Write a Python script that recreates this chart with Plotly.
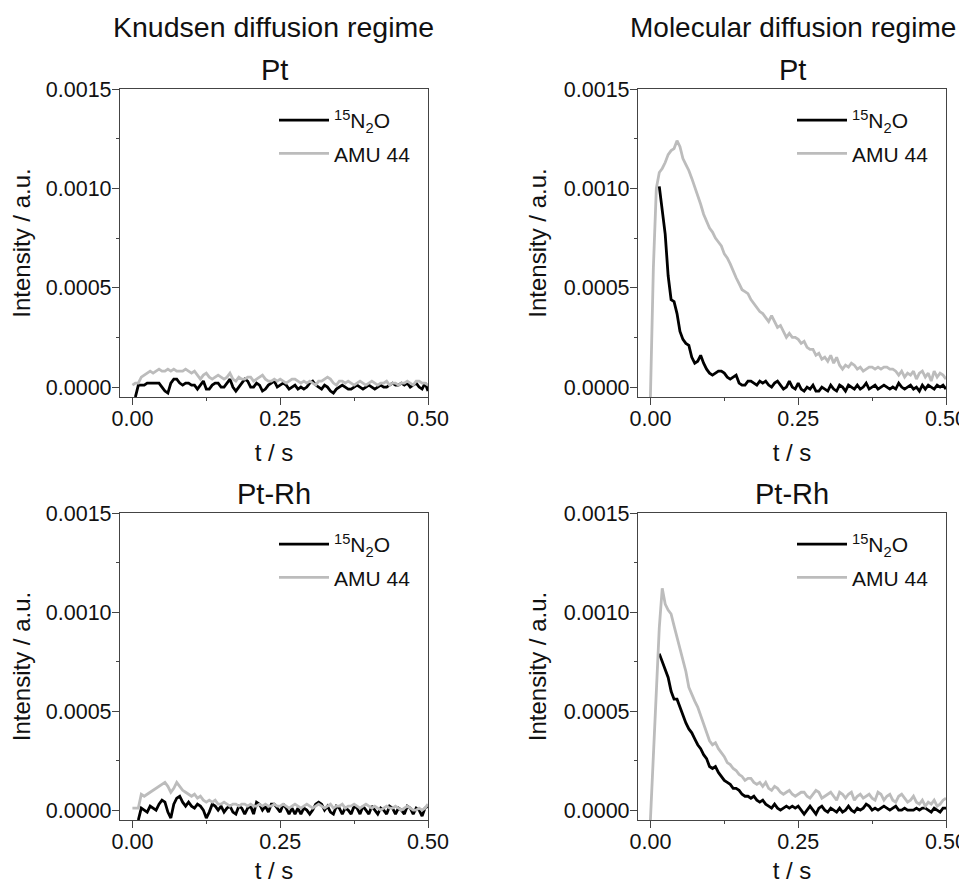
import numpy as np
import plotly.graph_objects as go

# time grid (s)
t = np.round(np.arange(0, 0.5001, 0.005), 3)

SCALE = 1e-4  # values below are in units of 1e-4 a.u.

# Knudsen regime, Pt
knudsen_pt_n2o = [None, -0.5, 0.1, 0.1, 0.1, 0.2, 0.2, 0.2, 0.2, 0.2,
                  0.0, -0.2, -0.3, 0.2, 0.4, 0.4, 0.2, 0.1, 0.2, 0.2,
                  0.1, 0.1, -0.1, 0.1, 0.3, -0.1, -0.1, 0.1, 0.2, 0.2,
                  0.0, 0.0, 0.2, 0.4, 0.0, -0.2, 0.0, 0.2, 0.4, 0.3,
                  0.0, 0.0, 0.2, 0.1, -0.2, -0.1, 0.1, 0.2, 0.3, 0.0,
                  0.1, 0.2, 0.1, -0.1, 0.0, 0.1, -0.1, 0.0, -0.1, 0.0,
                  0.2, 0.3, 0.1, 0.0, -0.1, 0.1, 0.0, -0.2, -0.3, -0.1,
                  0.0, 0.1, 0.0, -0.1, -0.1, 0.0, 0.1, 0.0, -0.1, 0.0,
                  0.1, 0.0, -0.1, 0.0, 0.1, 0.0, 0.0, 0.1, 0.2, 0.1,
                  0.1, 0.2, 0.1, 0.2, 0.0, 0.1, 0.2, 0.0, -0.1, 0.2, -0.2]
knudsen_pt_amu44 = [0.1, 0.2, 0.2, 0.5, 0.6, 0.7, 0.8, 0.7, 0.8, 0.9,
                    0.8, 0.8, 0.9, 0.8, 0.9, 0.8, 0.8, 0.8, 0.9, 0.8,
                    0.7, 0.8, 0.6, 0.4, 0.6, 0.7, 0.5, 0.4, 0.5, 0.6,
                    0.5, 0.4, 0.5, 0.7, 0.4, 0.3, 0.5, 0.4, 0.4, 0.5,
                    0.5, 0.3, 0.4, 0.5, 0.6, 0.4, 0.3, 0.3, 0.4, 0.3,
                    0.4, 0.3, 0.2, 0.3, 0.4, 0.4, 0.3, 0.2, 0.3, 0.2,
                    0.3, 0.2, 0.1, 0.3, 0.3, 0.4, 0.5, 0.4, 0.2, 0.1,
                    0.3, 0.3, 0.2, 0.3, 0.2, 0.1, 0.2, 0.3, 0.2, 0.1,
                    0.2, 0.3, 0.2, 0.1, 0.2, 0.2, 0.3, 0.1, 0.2, 0.2,
                    0.1, 0.2, 0.2, 0.3, 0.2, 0.1, 0.3, 0.3, 0.2, 0.2, 0.1]

# Molecular regime, Pt
molecular_pt_n2o = [None, None, None, 10.1, 9.0, 7.7, 5.6, 4.4, 4.3, 3.7,
                    2.8, 2.4, 2.2, 2.1, 1.5, 1.2, 1.3, 1.6, 1.2, 0.9,
                    0.7, 0.6, 0.7, 0.8, 0.8, 0.7, 0.5, 0.4, 0.5, 0.6,
                    0.2, 0.1, 0.1, 0.3, 0.3, 0.2, 0.1, 0.3, 0.2, 0.3,
                    0.1, 0.0, 0.2, 0.3, 0.1, -0.1, 0.0, 0.3, 0.0, -0.1,
                    0.2, -0.1, -0.2, 0.0, -0.1, 0.1, -0.2, -0.2, 0.0, -0.1,
                    -0.2, 0.1, -0.1, -0.2, 0.1, 0.0, -0.2, 0.1, 0.0, -0.1,
                    0.1, -0.1, 0.0, 0.2, -0.1, 0.0, 0.1, -0.1, 0.0, 0.1,
                    0.0, -0.1, 0.0, -0.1, 0.2, 0.0, -0.1, 0.0, 0.1, -0.1,
                    0.0, -0.2, 0.1, -0.1, 0.1, 0.0, -0.1, 0.1, 0.0, 0.1, -0.1]
molecular_pt_amu44 = [-0.5, 6.0, 10.0, 10.8, 11.0, 11.3, 11.7, 11.9, 12.0, 12.4,
                      12.1, 11.5, 11.2, 10.9, 10.5, 10.1, 9.6, 9.2, 8.7, 8.3,
                      8.0, 7.8, 7.5, 7.3, 7.1, 6.7, 6.5, 6.2, 5.8, 5.5,
                      5.2, 4.9, 4.8, 4.7, 4.4, 4.2, 4.0, 3.8, 3.7, 3.5,
                      3.3, 3.6, 3.3, 3.0, 3.1, 2.8, 2.5, 2.7, 2.5, 2.5,
                      2.4, 2.2, 2.3, 2.0, 1.9, 1.9, 1.6, 1.7, 1.4, 1.5,
                      1.3, 1.6, 1.2, 1.5, 1.1, 0.9, 1.1, 1.0, 1.2, 1.1,
                      0.9, 1.0, 0.8, 0.9, 1.0, 1.0, 0.9, 1.0, 0.9, 1.0,
                      1.0, 0.9, 0.9, 0.8, 0.6, 0.8, 0.5, 0.7, 0.6, 0.8,
                      0.4, 0.7, 0.8, 0.5, 0.7, 0.3, 0.8, 0.5, 0.7, 0.6, 0.4]

# Knudsen regime, Pt-Rh
knudsen_ptrh_n2o = [None, None, -0.5, 0.1, 0.0, -0.1, 0.2, 0.1, 0.0, 0.3,
                    0.5, 0.4, -0.1, -0.4, 0.3, 0.6, 0.7, 0.4, 0.2, 0.4,
                    0.2, 0.1, 0.3, 0.2, 0.0, -0.4, -0.1, 0.3, 0.2, 0.0,
                    0.2, -0.1, 0.1, 0.2, -0.1, -0.2, 0.2, 0.1, -0.2, 0.1,
                    0.2, -0.2, 0.4, 0.3, 0.0, 0.2, -0.1, 0.3, 0.3, 0.1,
                    -0.1, 0.3, 0.1, -0.2, 0.1, -0.2, 0.1, -0.2, 0.1, 0.0,
                    -0.2, 0.0, 0.3, 0.4, 0.3, 0.0, 0.2, -0.1, -0.2, 0.2,
                    0.1, -0.2, 0.1, 0.0, -0.2, 0.2, 0.1, -0.2, 0.2, 0.0,
                    -0.2, 0.2, 0.0, -0.2, 0.1, 0.0, -0.2, 0.2, 0.1, -0.2,
                    0.1, 0.0, -0.2, 0.2, 0.1, -0.2, 0.1, 0.0, -0.3, 0.1, 0.2]
knudsen_ptrh_amu44 = [0.1, 0.1, 0.1, 0.8, 0.7, 0.8, 0.9, 1.0, 1.1, 1.2,
                      1.3, 1.4, 1.2, 0.9, 1.1, 1.4, 1.2, 1.0, 0.9, 0.8,
                      0.7, 0.8, 0.6, 0.7, 0.5, 0.4, 0.5, 0.4, 0.5, 0.3,
                      0.3, 0.4, 0.3, 0.2, 0.3, 0.3, 0.2, 0.3, 0.3, 0.2,
                      0.3, 0.2, 0.2, 0.3, 0.2, 0.3, 0.2, 0.2, 0.3, 0.2,
                      0.2, 0.3, 0.2, 0.1, 0.2, 0.3, 0.2, 0.1, 0.2, 0.3,
                      0.2, 0.1, 0.2, 0.3, 0.2, 0.1, 0.2, 0.3, 0.1, 0.2,
                      0.2, 0.3, 0.1, 0.2, 0.2, 0.3, 0.2, 0.1, 0.2, 0.3,
                      0.2, 0.1, 0.2, 0.1, 0.0, 0.1, 0.2, 0.1, 0.1, 0.2,
                      0.1, 0.0, 0.1, 0.2, 0.1, 0.0, 0.0, 0.1, 0.0, 0.1, 0.3]

# Molecular regime, Pt-Rh
molecular_ptrh_n2o = [None, None, None, 7.9, 7.5, 7.0, 6.7, 6.0, 5.6, 5.6,
                      5.2, 4.7, 4.4, 4.1, 3.9, 3.6, 3.3, 3.1, 2.8, 2.6,
                      2.2, 2.1, 2.2, 1.9, 1.7, 1.5, 1.4, 1.3, 1.1, 1.1,
                      1.0, 0.8, 0.7, 0.7, 0.6, 0.7, 0.5, 0.4, 0.5, 0.3,
                      0.2, 0.1, 0.3, 0.1, 0.0, 0.1, 0.2, 0.1, 0.2, 0.1,
                      0.2, 0.0, -0.2, 0.0, 0.2, 0.0, -0.2, 0.1, 0.2, 0.0,
                      -0.1, 0.1, 0.0, -0.1, 0.1, -0.1, 0.0, 0.2, 0.0, -0.1,
                      0.1, 0.0, 0.1, 0.3, 0.2, 0.0, 0.1, 0.0, 0.1, 0.2,
                      0.1, 0.0, 0.1, 0.2, 0.0, 0.0, 0.1, 0.0, 0.0, 0.0,
                      0.1, 0.0, 0.1, 0.1, 0.0, -0.1, 0.1, 0.0, -0.1, 0.1, 0.1]
molecular_ptrh_amu44 = [-0.5, 3.0, 6.0, 9.2, 11.2, 10.4, 10.1, 9.9, 9.3, 8.7,
                        8.1, 7.6, 7.0, 6.2, 5.8, 5.5, 5.2, 4.8, 4.3, 3.9,
                        3.5, 3.3, 3.4, 3.1, 2.9, 2.7, 2.4, 2.3, 2.1, 2.0,
                        1.8, 1.7, 1.5, 1.6, 1.6, 1.4, 1.3, 1.4, 1.2, 1.4,
                        1.1, 1.0, 1.2, 1.1, 0.9, 0.8, 0.9, 1.0, 0.8, 0.7,
                        0.8, 0.9, 0.9, 0.7, 0.6, 0.8, 1.0, 0.9, 0.6, 0.7,
                        0.8, 0.9, 0.7, 0.5, 0.9, 0.8, 0.6, 0.8, 0.9, 0.5,
                        0.7, 0.8, 0.6, 0.7, 0.8, 0.6, 0.5, 0.9, 0.8, 0.5,
                        0.7, 0.8, 0.5, 0.4, 0.7, 0.8, 0.6, 0.4, 0.5, 0.7,
                        0.4, 0.3, 0.5, 0.2, 0.4, 0.3, 0.5, 0.2, 0.3, 0.5, 0.6]

column_titles = ["Knudsen diffusion regime", "Molecular diffusion regime"]
panel_titles = ["Pt", "Pt", "Pt-Rh", "Pt-Rh"]
series_names = ["<sup>15</sup>N<sub>2</sub>O", "AMU 44"]
y_ticks = [0, 0.0005, 0.0010, 0.0015]
y_ticktext = ["0.0000", "0.0005", "0.0010", "0.0015"]
x_ticks = [0, 0.25, 0.5]
x_ticktext = ["0.00", "0.25", "0.50"]

panels = [
    (knudsen_pt_n2o, knudsen_pt_amu44),
    (molecular_pt_n2o, molecular_pt_amu44),
    (knudsen_ptrh_n2o, knudsen_ptrh_amu44),
    (molecular_ptrh_n2o, molecular_ptrh_amu44),
]

OFF = 8  # the page body adds an 8px margin around the figure
W, H = 967 - OFF, 884 - OFF
FONT = "Liberation Sans, Arial, sans-serif"
TXT = "#111111"
AX = "#444444"
BLACK = "#000000"
GRAY = "#bcbcbc"

# panel boxes in screen pixels: (left, right, top, bottom)
boxes = [(120, 428, 89, 397), (638, 946, 89, 397),
         (120, 428, 513, 820), (638, 946, 513, 820)]
title_centers = [273, 793]
title_sizes = [28.5, 28]


def px(x):
    return (x - OFF) / W


def py(y):
    return 1 - (y - OFF) / H


def scaled(vals):
    return [None if v is None else v * SCALE for v in vals]


fig = go.Figure()
layout = dict(
    width=W, height=H, margin=dict(l=0, r=0, t=0, b=0, autoexpand=False),
    paper_bgcolor="white", plot_bgcolor="white",
    font=dict(family=FONT, color=TXT, size=21),
    annotations=[],
)

for i, (n2o, amu) in enumerate(panels):
    k = i + 1
    sfx = "" if k == 1 else str(k)
    lg = "legend" if k == 1 else f"legend{k}"
    for name, vals, col in ((series_names[0], n2o, BLACK), (series_names[1], amu, GRAY)):
        fig.add_trace(go.Scatter(
            x=t, y=scaled(vals), mode="lines", name=name,
            line=dict(color=col, width=2.8),
            xaxis=f"x{sfx}", yaxis=f"y{sfx}", legend=lg,
            legendgroup=f"{k}-{name}", connectgaps=False,
        ))
    l, r, tp, b = boxes[i]
    layout[f"xaxis{sfx}"] = dict(
        domain=[px(l), px(r)], anchor=f"y{sfx}", range=[-0.021, 0.5],
        tickvals=x_ticks, ticktext=x_ticktext, ticks="outside", ticklen=7,
        tickwidth=1.3, tickcolor=AX, showline=True, linecolor=AX, linewidth=1.3,
        mirror=True, showgrid=False, zeroline=False, automargin=False,
        ticklabeloverflow="allow", ticklabelstandoff=-5,
        tickfont=dict(size=21.5, family=FONT, color=TXT),
        minor=dict(tickvals=[0.125, 0.375], ticks="outside", ticklen=3, tickcolor=AX, showgrid=False),
        title=dict(text="t / s", font=dict(size=24, family=FONT, color=TXT), standoff=14),
    )
    layout[f"yaxis{sfx}"] = dict(
        domain=[py(b), py(tp)], anchor=f"x{sfx}", range=[-0.00005, 0.0015],
        tickvals=y_ticks, ticktext=y_ticktext, ticks="outside", ticklen=7,
        tickwidth=1.3, tickcolor=AX, showline=True, linecolor=AX, linewidth=1.3,
        mirror=True, showgrid=False, zeroline=False, automargin=False,
        ticklabeloverflow="allow", ticklabelstandoff=-4,
        tickfont=dict(size=21.5, family=FONT, color=TXT),
        minor=dict(tickvals=[0.00025, 0.00075, 0.00125], ticks="outside", ticklen=3, tickcolor=AX, showgrid=False),
        title=dict(text="Intensity / a.u.", font=dict(size=24, family=FONT, color=TXT), standoff=10),
    )
    layout[lg] = dict(
        x=px(l + 154), y=py(tp + 11), xanchor="left", yanchor="top",
        xref="paper", yref="paper", bgcolor="rgba(0,0,0,0)",
        font=dict(size=21, family=FONT, color=TXT),
        tracegroupgap=3, itemwidth=50,
    )
    layout["annotations"].append(dict(
        text=panel_titles[i], x=px((l + r) / 2), y=py(tp - 19),
        xref="paper", yref="paper", showarrow=False, xanchor="center", yanchor="middle",
        font=dict(size=29, family=FONT, color=TXT),
    ))

for j, title in enumerate(column_titles):
    layout["annotations"].append(dict(
        text=title, x=px(title_centers[j]), y=py(27),
        xref="paper", yref="paper", showarrow=False, xanchor="center", yanchor="middle",
        font=dict(size=title_sizes[j], family=FONT, color=TXT),
    ))

fig.update_layout(**layout)
fig.write_html("out.html")
